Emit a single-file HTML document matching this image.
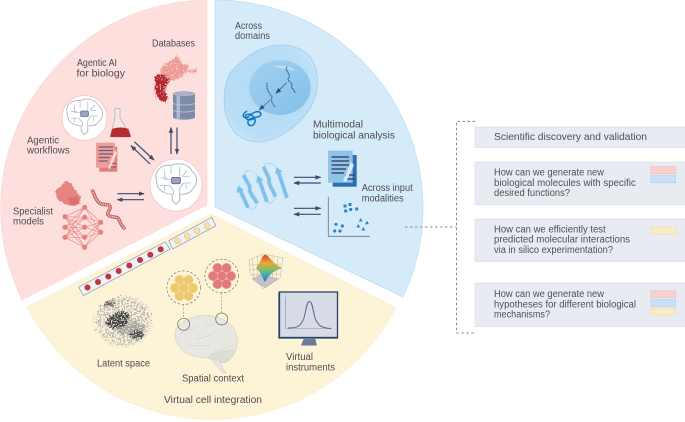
<!DOCTYPE html>
<html lang="en">
<head>
<meta charset="utf-8">
<title>Agentic AI, multimodal analysis and virtual cell integration</title>
<style>
html,body{margin:0;padding:0;background:#fff;width:685px;height:422px;overflow:hidden}
svg{display:block;filter:blur(.3px)}
text{font-family:"Liberation Sans",sans-serif;font-size:10px;fill:#4d4d52}
.r text{fill:#4d5059}
</style>
</head>
<body>
<svg width="685" height="422" viewBox="0 0 685 422" xmlns="http://www.w3.org/2000/svg">
<defs>
<filter id="scat" x="-15%" y="-15%" width="130%" height="130%">
  <feTurbulence type="fractalNoise" baseFrequency="0.6" numOctaves="2" seed="4" result="n"/>
  <feDisplacementMap in="SourceGraphic" in2="n" scale="6" xChannelSelector="R" yChannelSelector="G" result="d"/>
  <feColorMatrix in="n" type="matrix" values="0 0 0 0 0  0 0 0 0 0  0 0 0 0 0  8 0 0 0 -2.2" result="m"/>
  <feComposite in="d" in2="m" operator="in"/>
</filter>
<filter id="lat1" x="-25%" y="-25%" width="150%" height="150%">
  <feTurbulence type="fractalNoise" baseFrequency="0.55" numOctaves="2" seed="11" result="n"/>
  <feDisplacementMap in="SourceGraphic" in2="n" scale="16" xChannelSelector="R" yChannelSelector="G" result="d"/>
  <feColorMatrix in="n" type="matrix" values="0 0 0 0 0  0 0 0 0 0  0 0 0 0 0  0 9 0 0 -4.3" result="m"/>
  <feComposite in="d" in2="m" operator="in"/>
</filter>
<filter id="lat2" x="-25%" y="-25%" width="150%" height="150%">
  <feTurbulence type="fractalNoise" baseFrequency="0.7" numOctaves="1" seed="5" result="n"/>
  <feDisplacementMap in="SourceGraphic" in2="n" scale="9" xChannelSelector="R" yChannelSelector="G" result="d"/>
  <feColorMatrix in="n" type="matrix" values="0 0 0 0 0  0 0 0 0 0  0 0 0 0 0  9 0 0 0 -3.4" result="m"/>
  <feComposite in="d" in2="m" operator="in"/>
</filter>
<filter id="rough" x="-15%" y="-15%" width="130%" height="130%">
  <feTurbulence type="fractalNoise" baseFrequency="0.3" numOctaves="2" seed="7" result="n"/>
  <feDisplacementMap in="SourceGraphic" in2="n" scale="4" xChannelSelector="R" yChannelSelector="G"/>
</filter>
<linearGradient id="surf" x1="0" y1="0" x2="0" y2="1">
  <stop offset="0" stop-color="#e33b33"/><stop offset=".3" stop-color="#f2a62e"/>
  <stop offset=".55" stop-color="#7cc06a"/><stop offset=".8" stop-color="#3f9bd0"/><stop offset="1" stop-color="#2f6fb5"/>
</linearGradient>
<linearGradient id="nuc" x1="0" y1="0" x2="1" y2="1">
  <stop offset="0" stop-color="#a2d0f0"/><stop offset="1" stop-color="#83c0e9"/>
</linearGradient>
<radialGradient id="cell" cx=".45" cy=".45" r=".62">
  <stop offset="0" stop-color="#b4daf5"/><stop offset=".75" stop-color="#b9def6"/><stop offset="1" stop-color="#cbe7f9"/>
</radialGradient>
<marker id="ah" viewBox="0 0 8 8" refX="7" refY="4" markerWidth="6" markerHeight="6" orient="auto-start-reverse" markerUnits="userSpaceOnUse">
  <path d="M0 1L8 4L0 7Z" fill="#3d4a6b"/>
</marker>
<g id="brainicon" fill="none" stroke="#b0b6ca" stroke-width=".65">
  <path d="M-16 -4C-17 -11 -10 -15 -4 -14C2 -17 11 -15 13 -9C18 -6 17 2 13 5C11 9 6 9 3 9L3 14L0 17L-3 14L-3 9C-8 9 -14 6 -15 2Z" stroke-width=".8"/>
  <path d="M-9 -10V-3H-3M-4 -13V-7M3 -13V-5M9 -10L5 -5M-13 2H-5L-2 6V9M12 0H6L3 4V9M-9 6V2M8 5V1M-12 -4H-7M11 -5H6"/>
  <rect x="-3.500" y="-4.500" width="7" height="5" rx="1" fill="#9aa4bf" stroke="#5f6d90" stroke-width=".7"/>
</g>
</defs>

<!-- Sectors -->
<path d="M207 0V205L22 300A208 208 0 0 1 207 0Z" fill="#fde0dd" stroke="#fbd3cf" stroke-width=".5"/>
<path d="M215 0V207L403 297A208 208 0 0 0 215 0Z" fill="#d6ebfa" stroke="#b9dcf4" stroke-width=".7"/>
<path d="M211 214L396 308A208 208 0 0 1 27 307Z" fill="#fdf3d6" stroke="#f7e7bb" stroke-width=".5"/>

<!-- Pink: databases scatter -->
<g filter="url(#scat)">
  <path d="M162 66C168 62 172 60 176 56C180 57 180 62 183 64L189 65L187 71L198 68L196 73L186 72L180 78L172 81L166 78L160 72Z" fill="#ec9a96"/>
  <path d="M155 76C158 73 163 74 165 76L170 80L167 85C164 88 166 93 168 98L165 102L159 100L155 92Z" fill="#b2282e"/>
</g>
<!-- Database -->
<path d="M173 94C173 90.500 195 90.500 195 94V117C195 120.500 173 120.500 173 117Z" fill="#7f8ca8"/>
<rect x="176.500" y="93" width="3.500" height="26" fill="#aeb9cf"/>
<ellipse cx="184" cy="94" rx="11" ry="2.200" fill="#a9b2c6"/>
<path d="M173 103.500C178 105.500 190 105.500 195 103.500M173 110.500C178 112.500 190 112.500 195 110.500" fill="none" stroke="#c4cbdb" stroke-width=".8"/>

<!-- Brain nodes -->
<circle cx="84.500" cy="118" r="22.500" fill="#fff" stroke="#f7c5c0" stroke-width=".8"/>
<use href="#brainicon" transform="translate(84.500 116) scale(1.100)"/>
<circle cx="176" cy="185" r="26" fill="#fff" stroke="#f7c5c0" stroke-width=".8"/>
<use href="#brainicon" transform="translate(176 183) scale(1.250)"/>

<!-- Flask -->
<path d="M115 108.500H120V118L130.500 135.500C131 136.800 130 137 129 137H112C111 137 110 136.800 110.500 135.500L115 118Z" fill="#f6e6e6" stroke="#a9afc0" stroke-width=".7"/>
<path d="M112 129C117 127 124 127 128.500 129L130.500 135.500C131 136.800 130 137 129 137H112C111 137 110 136.800 110.500 135.500Z" fill="#b52c30"/>

<!-- Pink document -->
<rect x="99.300" y="146.700" width="18" height="25" fill="#e57f7b"/>
<rect x="96" y="142.700" width="19" height="25" fill="#ee9d98"/>
<path d="M98.500 147H113M98.500 150.500H113M98.500 154H113M98.500 157.500H110M98.500 161H108M109 163.500H116M110 167H116" stroke="#6e5f74" stroke-width="1.200"/>
<path d="M115 150L108 168L110 169L117 153Z" fill="#fbd9d6"/>

<!-- Pink arrows -->
<g stroke="#3d4a6b" stroke-width="1.200" fill="none" marker-end="url(#ah)">
  <path d="M171 154V127.500"/>
  <path d="M177 127.500V154"/>
  <path d="M134.300 141.700L154 160"/>
  <path d="M150 164L131 145.700"/>
  <path d="M117.300 193.700H144"/>
  <path d="M144 199.700H117.300"/>
</g>

<!-- Protein -->
<path filter="url(#rough)" d="M55 191C59 188 62 184 66 181C70 181 73 185 74 189L81 196L80 203L74 206L66 204L58 200Z" fill="#e5857f"/>
<path filter="url(#rough)" d="M68 198L78 196L79 203L72 204Z" fill="#d96f6b"/>

<!-- DNA -->
<g fill="none" stroke-linecap="round">
  <path id="dna" d="M92.700 191C95 196 96 201 100 203.300C104 206 109 203 110 206.700C111 210 106 213 108.300 215C111 218 116 216 118.300 218.300C120 221 120 224 124 228" stroke="#b9524f" stroke-width="3.400"/>
  <path d="M92.700 191C95 196 96 201 100 203.300C104 206 109 203 110 206.700C111 210 106 213 108.300 215C111 218 116 216 118.300 218.300C120 221 120 224 124 228" stroke="#f3bcb7" stroke-width="1.900"/>
  <path d="M92.700 191C95 196 96 201 100 203.300C104 206 109 203 110 206.700C111 210 106 213 108.300 215C111 218 116 216 118.300 218.300C120 221 120 224 124 228" stroke="#b9524f" stroke-width="3" stroke-linecap="butt" stroke-dasharray=".6 1.300"/>
</g>

<!-- Neural net -->
<g stroke="#e58c87" stroke-width=".7">
  <path d="M65 216.700L84.700 207.300M65 216.700L84.700 217.300M65 216.700L84.700 227.300M65 216.700L84.700 237.300M65 216.700L84.700 247.300
  M65 227.300L84.700 207.300M65 227.300L84.700 217.300M65 227.300L84.700 227.300M65 227.300L84.700 237.300M65 227.300L84.700 247.300
  M65 237.300L84.700 207.300M65 237.300L84.700 217.300M65 237.300L84.700 227.300M65 237.300L84.700 237.300M65 237.300L84.700 247.300
  M100.700 222.300L84.700 207.300M100.700 222.300L84.700 217.300M100.700 222.300L84.700 227.300M100.700 222.300L84.700 237.300M100.700 222.300L84.700 247.300
  M100.700 232.300L84.700 207.300M100.700 232.300L84.700 217.300M100.700 232.300L84.700 227.300M100.700 232.300L84.700 237.300M100.700 232.300L84.700 247.300"/>
</g>
<g fill="#e57f7b">
  <circle cx="65" cy="216.700" r="2.500"/><circle cx="65" cy="227.300" r="2.500"/><circle cx="65" cy="237.300" r="2.500"/>
  <circle cx="84.700" cy="207.300" r="2.500"/><circle cx="84.700" cy="217.300" r="2.500"/><circle cx="84.700" cy="227.300" r="2.500"/><circle cx="84.700" cy="237.300" r="2.500"/><circle cx="84.700" cy="247.300" r="2.500"/>
  <circle cx="100.700" cy="222.300" r="2.500"/><circle cx="100.700" cy="232.300" r="2.500"/>
</g>

<!-- Blue: cell -->
<path d="M230 73C245 56 262 44 283 45C298 46 310 52 315 66C319 79 318 94 311 107C300 124 280 142 257 142C243 141 233 134 228 121C223 110 222 88 230 73Z" fill="url(#cell)" stroke="#96cbee" stroke-width=".7"/>
<ellipse cx="280" cy="87.500" rx="30.700" ry="27.500" fill="url(#nuc)"/>
<path d="M274 66C282 65 291 66 296 71C289 69 281 69 274 66Z" fill="#bfdff5"/>
<path d="M287 67C284 71 291 73 289 77C286 81 292 82 292 85C290 88 295 90 295 93" fill="none" stroke="#3e6b98" stroke-width="1.300" stroke-dasharray="1.200 .4"/>
<path d="M267 83C266 90 270 94 272 97C270 101 273 104 275 107" fill="none" stroke="#3e6b98" stroke-width="1.400" stroke-dasharray="1 .6"/>
<g stroke="#4e6080" stroke-width=".8" fill="none">
  <path d="M286.700 82.700L276 93.300" marker-end="url(#ah)"/>
  <path d="M270 100L259.300 110" marker-end="url(#ah)"/>
</g>
<path d="M247 111C241 115 243 119 248 117C254 111 260 110 261 114C260 119 250 116 248 121C247 127 254 127 255 122C256 118 251 112 246 115C243 120 252 121 255 118" fill="none" stroke="#1479bd" stroke-width="1.500"/>

<!-- Beta sheets -->
<g fill="none" stroke="#a3cfee" stroke-width=".7">
  <path d="M243.700 175C246 168 254 170 258 176.700"/>
  <path d="M263.700 166.700C266 161 274 163 277 168"/>
  <path d="M248 207.700C251 211 256 209 257 203.300"/>
  <path d="M267 201.700C270 205 274 201 275.300 196.700"/>
</g>
<g stroke="#7fc1ea" stroke-width="3.800" fill="none">
  <path d="M248 207.700L240.500 191"/><path d="M267 201.700L259.500 181"/><path d="M287 198L278.500 172.500"/>
  <path d="M243.700 175C246 182 251 185 249.500 190C251 196 255 198 257 203.300"/>
  <path d="M263.700 166.700C266 174 270 177 269 182C270 188 274 191 275.300 196.700"/>
</g>
<g fill="#7fc1ea">
  <path d="M238 185.500L244 190L236.500 193Z"/><path d="M257.500 175.500L263.500 180L256 183Z"/><path d="M276.500 167L282.500 171.500L275 174Z"/>
</g>

<!-- Blue doc -->
<rect x="332.700" y="155" width="24" height="31.700" fill="#2d6fb1"/>
<rect x="328" y="150.700" width="24.700" height="32" fill="#8fc3ea"/>
<path d="M331.500 157H349M331.500 161H349M331.500 165H349M331.500 169H346M331.500 173H344M345 175H355M345 179H355" stroke="#3a4c70" stroke-width="1.500"/>
<path d="M351 162L343 181L346 182L354 165Z" fill="#d6ebfa"/>

<!-- Blue arrows -->
<g stroke="#3d4a6b" stroke-width="1.200" fill="none" marker-end="url(#ah)">
  <path d="M294 177.300H320.700"/>
  <path d="M320.700 183H294"/>
  <path d="M294 208.300H320.700"/>
  <path d="M320.700 214.300H294"/>
</g>

<!-- Plot -->
<path d="M328.300 196.700V236.300H370" fill="none" stroke="#6b7286" stroke-width=".8"/>
<g fill="#2f86c9">
  <rect x="343.500" y="204.500" width="3" height="3"/><rect x="348.500" y="203" width="3" height="3"/><rect x="344.200" y="209.500" width="3" height="3"/><rect x="349.200" y="208" width="3" height="3"/><rect x="355.200" y="207.500" width="3" height="3"/>
  <circle cx="336" cy="224.300" r="1.600"/><circle cx="342.300" cy="226" r="1.600"/><circle cx="334.700" cy="231" r="1.600"/><circle cx="340" cy="231" r="1.600"/>
  <path d="M360.700 218L362.700 221.500H358.700ZM367 220.700L369 224.200H365ZM358.300 224L360.300 227.500H356.300ZM363.300 227L365.300 230.500H361.300Z"/>
</g>

<!-- Embedding bars -->
<path d="M78.700 287L165.300 241.700L170 249.300L83.300 295.700Z" fill="#eef1f6" stroke="#8d97ad" stroke-width=".7"/>
<g fill="#c4353a">
  <circle cx="87.500" cy="287.500" r="3"/><circle cx="98" cy="282" r="3"/><circle cx="108.300" cy="276.500" r="3"/><circle cx="118.700" cy="271" r="3"/><circle cx="129.300" cy="265.500" r="3"/><circle cx="140" cy="260" r="3"/><circle cx="150.300" cy="254.700" r="3"/><circle cx="160.700" cy="249.300" r="3"/>
</g>
<path d="M168.700 240.700L211.700 217.300L216 225.700L172.700 249Z" fill="#eef1f6" stroke="#8d97ad" stroke-width=".7"/>
<g fill="#f8e2a0" stroke="#d9b65a" stroke-width=".5">
  <circle cx="177.300" cy="241" r="3"/><circle cx="187.300" cy="236" r="3"/><circle cx="197" cy="230.700" r="3"/><circle cx="207" cy="225.700" r="3"/>
</g>

<!-- Latent space -->
<g filter="url(#lat1)">
  <ellipse cx="123" cy="323" rx="28" ry="25" fill="#b4b4b2"/>
</g>
<g filter="url(#lat2)">
  <ellipse cx="131" cy="328" rx="15" ry="7" fill="#a2a2a0"/>
  <path d="M106 322C110 314 118 311 126 312C132 314 130 322 126 325C118 330 110 330 106 322Z" fill="#404042"/>
  <ellipse cx="137" cy="335" rx="7" ry="4" fill="#47474a"/>
  <ellipse cx="110" cy="304" rx="6" ry="3" fill="#6a6a6a"/>
</g>

<!-- Cell clusters -->
<circle cx="183.700" cy="287.700" r="16.800" fill="none" stroke="#666" stroke-width=".6" stroke-dasharray="2.500 1.800"/>
<g fill="#ecc96f" stroke="#f3d98f" stroke-width=".6">
  <circle cx="183.700" cy="288" r="4.700"/><circle cx="179.500" cy="280" r="4.700"/><circle cx="188.500" cy="280" r="4.700"/><circle cx="175" cy="288" r="4.700"/><circle cx="193" cy="288" r="4.700"/><circle cx="179.500" cy="296" r="4.700"/><circle cx="188.500" cy="296" r="4.700"/>
</g>
<circle cx="221.700" cy="276" r="16.800" fill="none" stroke="#666" stroke-width=".6" stroke-dasharray="2.500 1.800"/>
<g fill="#e27a7d" stroke="#eca3a2" stroke-width=".6">
  <circle cx="221.700" cy="276" r="4.700"/><circle cx="217.500" cy="268" r="4.700"/><circle cx="226.500" cy="268" r="4.700"/><circle cx="213" cy="276" r="4.700"/><circle cx="231" cy="276" r="4.700"/><circle cx="217.500" cy="284" r="4.700"/><circle cx="226.500" cy="284" r="4.700"/>
</g>

<!-- Brain -->
<path d="M175 335C174 326 185 318 198 316C214 313 231 320 236 333C239 344 236 352 232 356C230 361 226 364 220 362C222 366 224 370 226 373L222 372C219 369 216 365 213 361C208 356 200 358 194 356C185 355 176 346 175 335Z" fill="#e9e7e1" stroke="#c9c7c0" stroke-width=".5"/>
<path d="M180 334C188 328 193 330 199 326M196 340C204 335 210 338 216 331M187 345C196 347 203 344 210 346M214 352C222 350 228 346 233 346M205 322C208 326 212 326 214 324" fill="none" stroke="#d3d1ca" stroke-width=".6"/>
<path d="M208 357C213 352 226 350 235 351C233 358 228 363 220 362Z" fill="#dedcd3" stroke="#c9c7bf" stroke-width=".4"/>
<circle cx="183.700" cy="324.300" r="6" fill="none" stroke="#666" stroke-width=".7"/>
<circle cx="221.700" cy="319" r="6" fill="none" stroke="#666" stroke-width=".7"/>
<path d="M183.700 304.500V318M221.700 293V313" stroke="#888" stroke-width=".6" stroke-dasharray="2 1.500"/>

<!-- Surface -->
<g stroke="#a5a5a5" stroke-width=".4" fill="none">
  <path d="M249 260L264 254L283 258L280 278L263 289L250 273Z"/>
  <path d="M252 258L254 277M257 256L258 281M262 254.500L263 285M268 255.500L267 286M273 256.500L272 283M278 257.500L276 281M249 265L281 264M250 270L281 269M251 275L280 274"/>
</g>
<path d="M252 279L262 274L278 279L265 288Z" fill="#c4c4c6" stroke="#9a9a9a" stroke-width=".3"/>
<path d="M256 268C261 262 263 253 266 255C269 256 272 263 282 268C276 270 270 273 265 282C262 277 260 271 256 268Z" fill="url(#surf)"/>

<!-- Monitor -->
<rect x="279.500" y="292" width="58" height="45.500" fill="#d6dbe5" stroke="#27426c" stroke-width="1.300"/>
<path d="M279 292V338H338" fill="none" stroke="#27426c" stroke-width="1.300"/>
<path d="M285.500 297V328.500H332" fill="none" stroke="#8b94a9" stroke-width=".6"/>
<path d="M288 328C298 328 301 326 304 318C306 310 307 301 309.500 301.500C312 301 313 310 315 318C318 326 322 328 331 328.500" fill="none" stroke="#56648a" stroke-width="1"/>
<path d="M304 338H315L317 345.500H301Z" fill="#6b7a9b"/>

<!-- Dashed bracket -->
<path d="M475 121.300H456.500V333H475M405 227H456.500" fill="none" stroke="#5c6a8c" stroke-width=".8" stroke-dasharray="2.500 2.500"/>

<!-- Boxes -->
<g fill="#e8ebf1" stroke="#d9dde8" stroke-width=".7">
  <rect x="475" y="127" width="211" height="20.500"/>
  <rect x="475" y="162" width="211" height="42.500"/>
  <rect x="475" y="219" width="211" height="42.500"/>
  <rect x="475" y="283" width="211" height="43.500"/>
</g>
<g stroke-width=".7">
  <g fill="#f7d2d0" stroke="#efbdba"><rect x="651" y="166.700" width="24.500" height="7"/><rect x="651" y="291" width="24.500" height="6.700"/></g>
  <g fill="#c8e1f5" stroke="#add0ec"><rect x="651" y="175.700" width="24.500" height="7"/><rect x="651" y="299.700" width="24.500" height="6.700"/></g>
  <g fill="#f8ebc5" stroke="#f0dfae"><rect x="651" y="227.300" width="24.500" height="6.700"/><rect x="651" y="308.300" width="24.500" height="6.700"/></g>
</g>

<!-- Labels -->
<text lengthAdjust="spacingAndGlyphs" x="152" y="46.700" textLength="43">Databases</text>
<text lengthAdjust="spacingAndGlyphs" x="77" y="66" textLength="40">Agentic AI</text>
<text lengthAdjust="spacingAndGlyphs" x="76.500" y="76.500" textLength="48.500">for biology</text>
<text lengthAdjust="spacingAndGlyphs" x="27" y="143.500" textLength="32">Agentic</text>
<text lengthAdjust="spacingAndGlyphs" x="27" y="153.500" textLength="42.700">workflows</text>
<text lengthAdjust="spacingAndGlyphs" x="13" y="214.500" textLength="40">Specialist</text>
<text lengthAdjust="spacingAndGlyphs" x="13" y="224.500" textLength="31">models</text>
<text lengthAdjust="spacingAndGlyphs" x="235" y="29" textLength="27">Across</text>
<text lengthAdjust="spacingAndGlyphs" x="235" y="39" textLength="35">domains</text>
<text lengthAdjust="spacingAndGlyphs" x="313" y="127.500" textLength="50">Multimodal</text>
<text lengthAdjust="spacingAndGlyphs" x="313" y="138.500" textLength="82">biological analysis</text>
<text lengthAdjust="spacingAndGlyphs" x="361.700" y="191" textLength="51">Across input</text>
<text lengthAdjust="spacingAndGlyphs" x="361.700" y="201.500" textLength="42">modalities</text>
<text lengthAdjust="spacingAndGlyphs" x="97" y="366.700" textLength="53">Latent space</text>
<text lengthAdjust="spacingAndGlyphs" x="182" y="381.700" textLength="62">Spatial context</text>
<text lengthAdjust="spacingAndGlyphs" x="164" y="403" textLength="98">Virtual cell integration</text>
<text lengthAdjust="spacingAndGlyphs" x="286" y="360" textLength="27">Virtual</text>
<text lengthAdjust="spacingAndGlyphs" x="286" y="370.700" textLength="49">instruments</text>

<g class="r">
<text lengthAdjust="spacingAndGlyphs" x="494" y="140" textLength="153">Scientific discovery and validation</text>
<text lengthAdjust="spacingAndGlyphs" x="494" y="175.700" textLength="110">How can we generate new</text>
<text lengthAdjust="spacingAndGlyphs" x="494" y="185.900" textLength="141.700">biological molecules with specific</text>
<text lengthAdjust="spacingAndGlyphs" x="494" y="196.200" textLength="76">desired functions?</text>
<text lengthAdjust="spacingAndGlyphs" x="494" y="232.400" textLength="111.700">How can we efficiently test</text>
<text lengthAdjust="spacingAndGlyphs" x="494" y="242.700" textLength="136">predicted molecular interactions</text>
<text lengthAdjust="spacingAndGlyphs" x="494" y="253" textLength="119">via in silico experimentation?</text>
<text lengthAdjust="spacingAndGlyphs" x="494" y="297" textLength="110">How can we generate new</text>
<text lengthAdjust="spacingAndGlyphs" x="494" y="307.300" textLength="142">hypotheses for different biological</text>
<text lengthAdjust="spacingAndGlyphs" x="494" y="317.700" textLength="56">mechanisms?</text>
</g>
</svg>
</body>
</html>
